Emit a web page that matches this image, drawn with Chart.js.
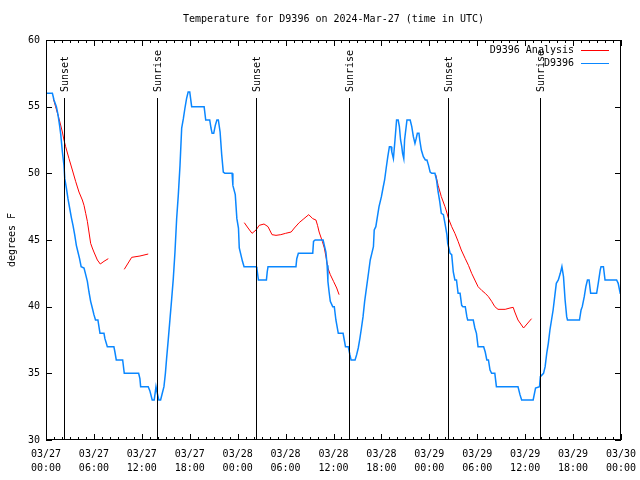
<!DOCTYPE html>
<html>
<head>
<meta charset="utf-8">
<script src="https://cdn.jsdelivr.net/npm/chart.js@4"></script>
<style>
  body { margin: 0; background: #fff; }
  canvas { display: block; }
</style>
</head>
<body>
<canvas id="tempChart" width="640" height="480"></canvas>
<script>
// hours since 03/27 00:00 UTC
const xTickLabels = [
  ['03/27', '00:00'], ['03/27', '06:00'], ['03/27', '12:00'], ['03/27', '18:00'],
  ['03/28', '00:00'], ['03/28', '06:00'], ['03/28', '12:00'], ['03/28', '18:00'],
  ['03/29', '00:00'], ['03/29', '06:00'], ['03/29', '12:00'], ['03/29', '18:00'],
  ['03/30', '00:00']
];

const eventHours = [2.3, 13.94, 26.3, 37.95, 50.35, 61.86];
const eventNames = ['Sunset', 'Sunrise', 'Sunset', 'Sunrise', 'Sunset', 'Sunrise'];

// D9396 observations
const obsHours = [0, 0.8, 1.0, 1.3, 1.5, 1.7, 1.85, 2.05, 2.25, 2.35, 2.55, 2.75, 2.96, 3.17, 3.38, 3.59, 3.8, 4.0, 4.2, 4.4,
  4.76, 4.97, 5.18, 5.38, 5.59, 5.8, 6.0, 6.2, 6.5, 6.63, 6.76, 7.26, 7.38, 7.68, 8.5, 8.63, 8.8, 9.6, 9.8, 11.6,
  11.76, 11.85, 12.8, 13.0, 13.3, 13.55, 13.77, 13.9, 14.13, 14.35, 14.6, 14.77, 14.95, 15.1, 15.32, 15.53, 15.74, 15.94, 16.15, 16.36,
  16.57, 16.78, 16.99, 17.2, 17.4, 17.6, 17.8, 18.0, 18.24, 19.8, 20.0, 20.5, 20.66, 20.8, 21.0, 21.2, 21.4, 21.58, 21.8, 22.0,
  22.2, 22.4, 23.3, 23.4, 23.7, 23.9, 24.1, 24.2, 24.4, 24.6, 24.8, 26.3, 26.4, 26.6, 27.6, 27.7, 27.8, 31.3, 31.4, 31.6,
  33.4, 33.5, 33.7, 34.7, 34.85, 35.05, 35.2, 35.3, 35.45, 35.6, 35.9, 36.1, 36.3, 36.6, 37.2, 37.35, 37.5, 37.85, 38.05, 38.2,
  38.7, 38.9, 39.1, 39.3, 39.5, 39.7, 39.9, 40.15, 40.4, 40.6, 40.8, 41.0, 41.1, 41.3, 41.5, 41.7, 42.0, 42.2, 42.4, 42.6,
  42.8, 43.0, 43.2, 43.3, 43.5, 43.7, 43.9, 44.1, 44.25, 44.4, 44.55, 44.65, 44.8, 44.9, 45.2, 45.6, 45.8, 46.0, 46.2, 46.35,
  46.5, 46.7, 46.8, 47.0, 47.25, 47.5, 47.7, 47.9, 48.1, 48.3, 48.7, 48.9, 49.1, 49.3, 49.5, 49.76, 49.96, 50.2, 50.3, 50.5,
  50.6, 50.8, 51.0, 51.2, 51.4, 51.6, 51.85, 52.05, 52.2, 52.5, 52.7, 52.8, 53.5, 53.7, 53.9, 54.1, 54.35, 54.8, 55.0, 55.2,
  55.4, 55.6, 55.8, 56.2, 56.4, 59.1, 59.35, 59.56, 61.0, 61.3, 61.8, 61.9, 62.3, 62.5, 62.7, 62.9, 63.1, 63.3, 63.5, 63.7,
  63.9, 64.15, 64.4, 64.6, 64.8, 65.0, 65.2, 65.3, 66.8, 67.0, 67.15, 67.4, 67.6, 67.8, 68.0, 68.2, 68.95, 69.15, 69.4, 69.5,
  69.8, 70.0, 71.45, 71.65, 71.9, 72.0];
const obsTemps = [56, 56, 55.5, 55, 54.4, 53.6, 52.9, 51.6, 50.6, 49.6, 48.9, 48.1, 47.4, 46.7, 46.1, 45.4, 44.6, 44.1, 43.6, 43,
  42.9, 42.4, 41.9, 41.1, 40.4, 39.9, 39.4, 39, 39, 38.5, 38, 38, 37.6, 37, 37, 36.6, 36, 36, 35, 35,
  34.6, 34, 34, 33.7, 33, 33, 34, 33.6, 33, 33, 33.6, 34, 35, 36.1, 37.6, 39.1, 40.6, 42.1, 44.1, 46.6,
  48.4, 50.6, 53.4, 54.1, 54.9, 55.6, 56.1, 56.1, 55, 55, 54, 54, 53.4, 53, 53, 53.6, 54, 54, 53.1, 51.4,
  50.1, 50, 50, 49.1, 48.4, 46.6, 45.9, 44.4, 43.9, 43.4, 43, 43, 42.9, 42, 42, 42.6, 43, 43, 43.6, 44,
  44, 44.9, 45, 45, 44.6, 44.1, 43.1, 41.9, 41.1, 40.4, 40, 40, 39, 38, 38, 37.5, 37, 37, 36.4, 36,
  36, 36.4, 36.9, 37.6, 38.4, 39.25, 40.4, 41.5, 42.6, 43.5, 44, 44.5, 45.75, 46, 46.75, 47.5, 48.25, 48.9, 49.5, 50.4,
  51.25, 52, 52, 51.6, 51.1, 52.5, 54, 54, 53.5, 52.5, 52, 51.5, 51.1, 52.5, 54, 54, 53.5, 52.75, 52.25, 52.6,
  53, 53, 52.5, 51.75, 51.25, 51, 51, 50.6, 50.1, 50, 50, 49.5, 48.6, 47.9, 47, 46.9, 46.25, 45.4, 44.75, 44.25,
  44, 43.9, 42.6, 42, 42, 41, 41, 40.1, 40, 40, 39.25, 39, 39, 38.4, 38, 37, 37, 37, 36.6, 36,
  36, 35.25, 35, 35, 34, 34, 33.4, 33, 33, 33.9, 34, 34.75, 35, 35.5, 36.5, 37.25, 38.25, 39, 39.75, 40.75,
  41.75, 42, 42.5, 43, 42.25, 40.5, 39.25, 39, 39, 39.75, 40, 40.75, 41.5, 42, 42, 41, 41, 41.75, 42.75, 43,
  43, 42, 42, 41.75, 41, 41];

// D9396 Analysis (null = gap)
const anaHours = [0.92, 1.2, 1.63, 2.05, 2.25, 2.46, 2.88, 3.3, 3.71, 4.13, 4.55, 4.76, 4.97, 5.18, 5.38, 5.59, 5.8, 6.0, 6.43, 6.8,
  7.26, 7.8, 8.8, 9.8, 10.73, 11.77, 12.8, 18.8,
  24.83, 25.3, 25.8, 26.3, 26.7, 27.3, 27.8, 28.3, 28.8, 29.4, 30.0, 30.7, 31.1, 31.7, 32.3, 32.9, 33.4, 33.8, 34.0, 34.2,
  34.6, 34.85, 35.1, 35.3, 35.6, 36.0, 36.4, 36.7, 42.0,
  48.8, 49.1, 49.5, 49.96, 50.17, 50.4, 50.8, 51.2, 51.6, 52.0, 52.5, 52.9, 53.3, 53.7, 54.1, 54.6, 55.0, 55.4, 55.8, 56.2,
  56.6, 57.5, 58.1, 58.5, 58.7, 59.1, 59.8, 60.8];
const anaTemps = [55.6, 55, 54.1, 53.1, 52.5, 52, 51.1, 50.25, 49.4, 48.6, 48, 47.6, 47, 46.4, 45.6, 44.75, 44.4, 44.1, 43.5, 43.2,
  43.4, 43.6, null, 42.8, 43.7, 43.8, 43.95, null,
  46.3, 45.9, 45.5, 45.75, 46.1, 46.2, 46, 45.4, 45.35, 45.4, 45.5, 45.6, 45.9, 46.3, 46.6, 46.9, 46.6, 46.5, 46.1, 45.6,
  44.9, 44.4, 43.6, 42.9, 42.4, 41.9, 41.4, 40.9, null,
  49.9, 49.1, 48.25, 47.5, 47.1, 46.6, 46, 45.5, 44.9, 44.25, 43.6, 43.1, 42.5, 42, 41.5, 41.2, 41, 40.75, 40.4, 40,
  39.8, 39.8, 39.9, 39.95, 39.6, 39, 38.4, 39.1];

const FONT = '"DejaVu Sans Mono", "Liberation Mono", monospace';

const gnuplotDecor = {
  id: 'gnuplotDecor',
  afterDatasetsDraw(chart) {
    const ctx = chart.ctx;
    const a = chart.chartArea;
    const xs = chart.scales.x, ys = chart.scales.y;
    ctx.save();
    ctx.strokeStyle = '#000';
    ctx.fillStyle = '#000';
    ctx.lineWidth = 1;

    // sunrise / sunset markers
    ctx.font = '10px ' + FONT;
    eventHours.forEach((h, i) => {
      const px = Math.round(xs.getPixelForValue(h)) + 0.5;
      ctx.beginPath();
      ctx.moveTo(px, 98);
      ctx.lineTo(px, a.bottom);
      ctx.stroke();
      ctx.save();
      ctx.translate(px + 1, 92);
      ctx.rotate(-Math.PI / 2);
      ctx.textAlign = 'left';
      ctx.textBaseline = 'middle';
      ctx.fillText(eventNames[i], 0, 0);
      ctx.restore();
    });

    // border box
    ctx.strokeRect(a.left + 0.5, a.top + 0.5, a.right - a.left - 1, a.bottom - a.top - 1);

    // x ticks (major every 6h, minor every hour), bottom and top
    ctx.beginPath();
    for (let h = xs.min; h <= xs.max; h++) {
      const px = Math.round(xs.getPixelForValue(h)) + 0.5;
      const len = h % 6 === 0 ? 6 : 3;
      ctx.moveTo(px, a.bottom);
      ctx.lineTo(px, a.bottom - len);
      ctx.moveTo(px, a.top);
      ctx.lineTo(px, a.top + len);
    }
    // y ticks, left and right
    ys.ticks.forEach(t => {
      const py = Math.round(ys.getPixelForValue(t.value)) + 0.5;
      ctx.moveTo(a.left, py);
      ctx.lineTo(a.left + 6, py);
      ctx.moveTo(a.right, py);
      ctx.lineTo(a.right - 6, py);
    });
    ctx.stroke();

    // legend
    ctx.font = '10px ' + FONT;
    ctx.textAlign = 'right';
    ctx.textBaseline = 'middle';
    const legendOrder = [1, 0];
    legendOrder.forEach((di, row) => {
      const ds = chart.data.datasets[di];
      const y = 50 + row * 13;
      ctx.fillStyle = '#000';
      ctx.fillText(ds.label, 574, y);
      ctx.strokeStyle = ds.borderColor;
      ctx.beginPath();
      ctx.moveTo(581, y + 0.5);
      ctx.lineTo(609, y + 0.5);
      ctx.stroke();
    });

    // title and y-axis label
    ctx.fillStyle = '#000';
    ctx.textAlign = 'center';
    ctx.fillText('Temperature for D9396 on 2024-Mar-27 (time in UTC)', (a.left + a.right) / 2, 19);
    ctx.save();
    ctx.translate(12, (a.top + a.bottom) / 2);
    ctx.rotate(-Math.PI / 2);
    ctx.fillText('degrees F', 0, 0);
    ctx.restore();

    ctx.restore();
  }
};

new Chart(document.getElementById('tempChart'), {
  type: 'line',
  data: {
    datasets: [
      {
        label: 'D9396',
        data: obsHours.map((h, i) => ({ x: h, y: obsTemps[i] })),
        borderColor: '#0a87ff',
        borderWidth: 1.5,
        pointRadius: 0,
        tension: 0,
        order: 1
      },
      {
        label: 'D9396 Analysis',
        data: anaHours.map((h, i) => ({ x: h, y: anaTemps[i] })),
        borderColor: '#ff0000',
        borderWidth: 1,
        pointRadius: 0,
        tension: 0,
        spanGaps: false,
        order: 2
      }
    ]
  },
  options: {
    responsive: false,
    animation: false,
    layout: { padding: { top: 40, right: 19, left: 0, bottom: 0 } },
    plugins: {
      legend: { display: false },
      title: { display: false },
      tooltip: { enabled: false }
    },
    scales: {
      x: {
        type: 'linear',
        min: 0,
        max: 72,
        grid: { display: false, drawTicks: false },
        border: { display: false },
        afterFit(scale) {
          scale.height = 40;
          scale.paddingLeft = 0;
          scale.paddingRight = 0;
        },
        ticks: {
          stepSize: 6,
          autoSkip: false,
          maxRotation: 0,
          padding: 7,
          color: '#000',
          font: { family: FONT, size: 10, lineHeight: 1.4 },
          callback: v => xTickLabels[v / 6]
        }
      },
      y: {
        min: 30,
        max: 60,
        grid: { display: false, drawTicks: false },
        border: { display: false },
        afterFit(scale) {
          scale.width = 46;
          scale.paddingTop = 0;
          scale.paddingBottom = 0;
        },
        ticks: {
          stepSize: 5,
          padding: 6,
          color: '#000',
          font: { family: FONT, size: 10 }
        }
      }
    }
  },
  plugins: [gnuplotDecor]
});
</script>
</body>
</html>
